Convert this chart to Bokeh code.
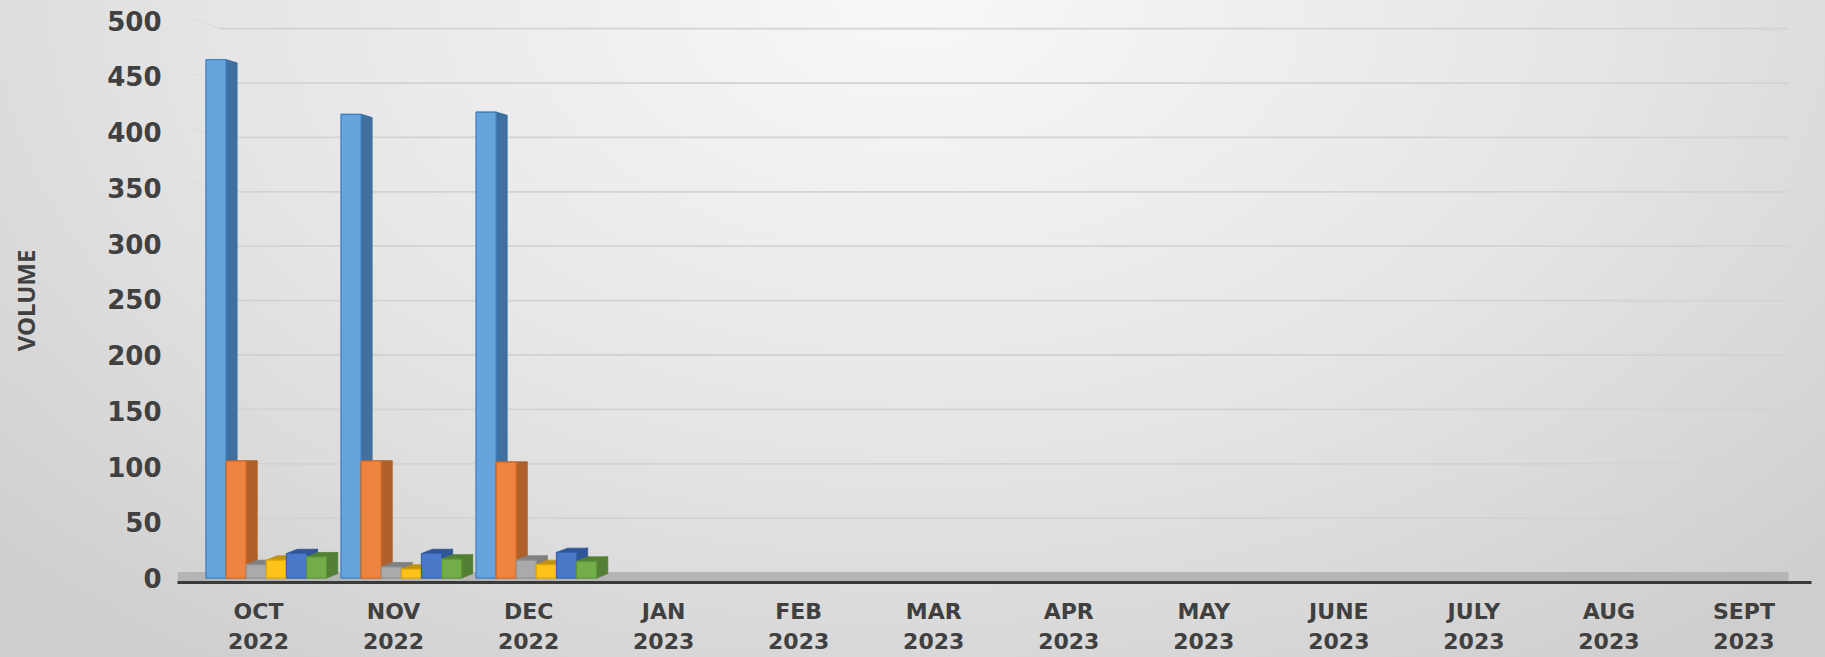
import numpy as np
from bokeh.plotting import figure
from bokeh.models import ColumnDataSource, FixedTicker, BoxAnnotation, Range1d
from bokeh.embed import file_html
from bokeh.resources import INLINE

# ---------------- data ----------------
MONTHS = ["OCT", "NOV", "DEC", "JAN", "FEB", "MAR", "APR", "MAY", "JUNE", "JULY", "AUG", "SEPT"]
YEARS = ["2022", "2022", "2022", "2023", "2023", "2023", "2023", "2023", "2023", "2023", "2023", "2023"]
SERIES_NAMES = ["Series 1", "Series 2", "Series 3", "Series 4", "Series 5", "Series 6"]
SERIES_1 = [465, 416, 418, None, None, None, None, None, None, None, None, None]
SERIES_2 = [105, 105, 104, None, None, None, None, None, None, None, None, None]
SERIES_3 = [12, 10, 16, None, None, None, None, None, None, None, None, None]
SERIES_4 = [16, 8, 12, None, None, None, None, None, None, None, None, None]
SERIES_5 = [22, 22, 23, None, None, None, None, None, None, None, None, None]
SERIES_6 = [19, 17, 15, None, None, None, None, None, None, None, None, None]
Y_TICKS = [0, 50, 100, 150, 200, 250, 300, 350, 400, 450, 500]
Y_TITLE = "VOLUME"

SERIES = [SERIES_1, SERIES_2, SERIES_3, SERIES_4, SERIES_5, SERIES_6]

# ---------------- style ----------------
FRONT = ["#68a4dc", "#ee8440", "#aaaaaa", "#ffc21a", "#4a78c8", "#72ad49"]
SIDE = ["#3f70a0", "#b0602a", "#808080", "#c09214", "#2f5597", "#527f34"]
EDGE = ["#3b7cc0", "#d0671f", "#909090", "#e0a800", "#3561ad", "#5c9338"]
BAR_W = 0.149
FIRST_OFF = -0.315
STEP = 0.149
DEPTH = 0.082
TEXT_COLOR = "#404040"
# back-wall perspective of the gridlines (style only)
GRID_SCALE = 0.976
GRID_OFF = 4.9
GRID_X0 = 0.215
GRID_X1 = 11.83


def skew(v):
    return float(np.clip((105.0 - v) * 0.046, -3.0, 4.0))


p = figure(width=1825, height=657, output_backend="svg", toolbar_location=None,
           x_range=Range1d(-0.1, 12.0), y_range=Range1d(-4, 502),
           min_border_left=177, min_border_right=14, min_border_top=18, min_border_bottom=75)

p.styles = {"background": "radial-gradient(ellipse 70% 125% at 50% 0%, #f8f8f8 0%, #e5e5e5 55%, #cecece 100%)"}
p.background_fill_color = None
p.border_fill_color = None
p.outline_line_color = None

# back-wall gridlines
gy = [GRID_OFF + GRID_SCALE * t for t in Y_TICKS[1:]]
p.segment(x0=[GRID_X0] * len(gy), x1=[GRID_X1] * len(gy), y0=gy, y1=gy,
          line_color="#d3d3d3", line_width=1.8, level="underlay")
p.segment(x0=[0.0] * len(gy), x1=[GRID_X0] * len(gy), y0=[g + 9 for g in gy], y1=gy,
          line_color="#dcdcdc", line_width=1.2, level="underlay")

# floor band
floor = BoxAnnotation(bottom=-4, top=5.5, right=11.83, fill_color="#b5b5b5", fill_alpha=1.0,
                      line_color=None, level="underlay")
p.add_layout(floor)

fronts = []
for k, vals in enumerate(SERIES):
    fr = dict(left=[], right=[], top=[], bottom=[])
    sd = dict(xs=[], ys=[])
    tp = dict(xs=[], ys=[])
    for i, v in enumerate(vals):
        if v is None:
            continue
        xl = i + 0.5 + FIRST_OFF + k * STEP - BAR_W / 2
        xr = xl + BAR_W
        s_top = skew(v)
        s_bot = skew(0)
        fr["left"].append(xl); fr["right"].append(xr)
        fr["top"].append(v); fr["bottom"].append(0)
        sd["xs"].append([xr, xr + DEPTH, xr + DEPTH, xr])
        sd["ys"].append([0, s_bot, v + s_top, v])
        tp["xs"].append([xl, xr, xr + DEPTH, xl + DEPTH])
        tp["ys"].append([v, v, v + s_top, v + s_top])
    p.patches("xs", "ys", source=ColumnDataSource(sd), fill_color=SIDE[k], line_color=SIDE[k], line_width=0.8)
    p.patches("xs", "ys", source=ColumnDataSource(tp), fill_color=SIDE[k], line_color=SIDE[k], line_width=0.8)
    fronts.append((ColumnDataSource(fr), k))

for src, k in fronts:
    p.quad(left="left", right="right", top="top", bottom="bottom", source=src,
           fill_color=FRONT[k], line_color=EDGE[k], line_width=1.2)

# axes
xt = [i + 0.5 for i in range(len(MONTHS))]
p.xaxis.ticker = FixedTicker(ticks=xt)
p.xaxis.major_label_overrides = {t: f"{m}\n{y}" for t, m, y in zip(xt, MONTHS, YEARS)}
p.xaxis.axis_line_color = "#3a3a3a"
p.xaxis.axis_line_width = 3
p.xaxis.major_tick_line_color = None
p.xaxis.minor_tick_line_color = None
p.xaxis.major_label_text_font = "DejaVu Sans"
p.xaxis.major_label_text_font_style = "bold"
p.xaxis.major_label_text_font_size = "22px"
p.xaxis.major_label_text_color = TEXT_COLOR
p.xaxis.major_label_standoff = 10

p.yaxis.ticker = FixedTicker(ticks=Y_TICKS)
p.yaxis.axis_line_color = None
p.yaxis.major_tick_line_color = None
p.yaxis.minor_tick_line_color = None
p.yaxis.major_label_text_font = "DejaVu Sans"
p.yaxis.major_label_text_font_style = "bold"
p.yaxis.major_label_text_font_size = "26px"
p.yaxis.major_label_text_color = TEXT_COLOR
p.yaxis.major_label_standoff = 10
p.yaxis.axis_label = Y_TITLE
p.yaxis.axis_label_text_font = "Noto Sans"
p.yaxis.axis_label_text_font_style = "bold"
p.yaxis.axis_label_text_font_size = "24px"
p.yaxis.axis_label_text_color = TEXT_COLOR
p.yaxis.axis_label_standoff = 62

p.grid.visible = False

open("out.html", "w").write(file_html(p, INLINE))
